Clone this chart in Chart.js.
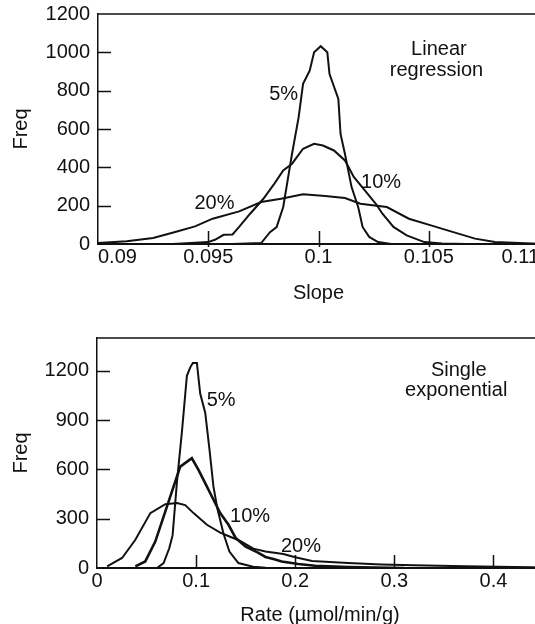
<!DOCTYPE html>
<html>
<head>
<meta charset="utf-8">
<script src="https://cdn.jsdelivr.net/npm/chart.js@4.4.1/dist/chart.umd.min.js"></script>
<style>
  html, body { margin: 0; padding: 0; background: #fff; overflow: hidden; }
  .panel { position: absolute; left: 0; width: 545px; }
  #topPanel { top: 0; height: 310px; }
  #bottomPanel { top: 310px; height: 330px; }
</style>
</head>
<body>
<div class="panel" id="topPanel"><canvas id="slopeChart"></canvas></div>
<div class="panel" id="bottomPanel"><canvas id="rateChart"></canvas></div>
<script>
// --- Linear regression: slope distributions for 5%, 10%, 20% noise ---
const SLOPE_X_TICKS = [0.09, 0.095, 0.1, 0.105, 0.11];
const SLOPE_Y_TICKS = [0, 200, 400, 600, 800, 1000, 1200];

const SLOPE_5_X = [0.0961, 0.0974, 0.0978, 0.0981, 0.0984, 0.0986, 0.0988, 0.0991, 0.0993, 0.0996, 0.0998, 0.1001,
                   0.1004, 0.1005, 0.1009, 0.1010, 0.1012, 0.1015, 0.1018, 0.1020, 0.1023, 0.1027, 0.1033];
const SLOPE_5_Y = [0, 5, 62, 88, 193, 332, 471, 662, 836, 904, 1000, 1032,
                   1000, 887, 757, 574, 470, 297, 193, 89, 37, 10, 0];

const SLOPE_10_X = [0.0934, 0.0950, 0.0953, 0.0957, 0.0961, 0.0964, 0.0969, 0.0975, 0.0980, 0.0984, 0.0988, 0.0993, 0.0998,
                    0.1002, 0.1007, 0.1012, 0.1016, 0.1021, 0.1026, 0.1029, 0.1034, 0.1040, 0.1048, 0.1056, 0.1067];
const SLOPE_10_Y = [0, 10, 22, 48, 50, 89, 158, 236, 315, 384, 419, 497, 523,
                    514, 488, 436, 350, 280, 210, 158, 89, 45, 10, 2, 0];

const SLOPE_20_X = [0.0900, 0.0913, 0.0925, 0.0935, 0.0944, 0.0952, 0.0964, 0.0974, 0.0983, 0.0993, 0.1003,
                    0.1012, 0.1019, 0.1031, 0.1041, 0.1051, 0.1060, 0.1071, 0.1080, 0.1091, 0.1097, 0.1100];
const SLOPE_20_Y = [5, 14, 31, 63, 92, 132, 170, 219, 236, 259, 250,
                    240, 210, 193, 132, 97, 66, 28, 10, 5, 2, 1];

// --- Single exponential: rate distributions ---
const RATE_X_TICKS = [0, 0.1, 0.2, 0.3, 0.4];
const RATE_Y_TICKS = [0, 300, 600, 900, 1200];

const RATE_5_X = [0.057, 0.0605, 0.0672, 0.0729, 0.0763, 0.0806, 0.0857, 0.0907, 0.094, 0.0967, 0.1008, 0.1041,
                  0.1092, 0.1135, 0.1175, 0.1215, 0.1276, 0.1336, 0.1427, 0.1575, 0.17, 0.18];
const RATE_5_Y = [0, 0, 30, 120, 200, 520, 830, 1170, 1220, 1248, 1248, 1062,
                  945, 720, 495, 360, 210, 100, 30, 8, 2, 0];

const RATE_10_X = [0.0387, 0.0487, 0.0588, 0.0672, 0.0739, 0.084, 0.0957, 0.1024, 0.1075, 0.1159, 0.1243, 0.1327,
                   0.14, 0.15, 0.162, 0.17, 0.178, 0.1864, 0.2031, 0.22, 0.2535, 0.28, 0.31];
const RATE_10_Y = [10, 40, 161, 313, 435, 617, 668, 597, 536, 435, 334, 263,
                   182, 130, 95, 67, 55, 40, 24, 14, 6, 3, 0];

const RATE_20_X = [0.0102, 0.0253, 0.0387, 0.0538, 0.0689, 0.0807, 0.089, 0.0974, 0.1109, 0.1243, 0.1343, 0.1444,
                   0.1578, 0.17, 0.188, 0.2, 0.217, 0.235, 0.2535, 0.287, 0.32, 0.371, 0.438, 0.45];
const RATE_20_Y = [10, 61, 172, 334, 388, 396, 383, 334, 263, 215, 190, 165,
                   118, 100, 85, 65, 42, 36, 30, 22, 16, 10, 5, 3];

const INK = "#111";
const FONT = { family: "'Liberation Sans', Arial, Helvetica, sans-serif", size: 20 };

Chart.defaults.font.family = FONT.family;
Chart.defaults.font.size = FONT.size;
Chart.defaults.color = INK;

function zip(xs, ys) {
    return xs.map((x, i) => ({ x, y: ys[i] }));
}

function curve(xs, ys, width) {
    return {
        data: zip(xs, ys),
        borderColor: INK,
        borderWidth: width || 2,
        pointRadius: 0,
        tension: 0,
        fill: false,
    };
}

// Frame top edge, inward tick marks and in-plot text notes.
const frameTicks = {
    id: "frameTicks",
    afterDraw(chart, args, opts) {
        const { ctx, chartArea: a, scales: { x, y } } = chart;
        ctx.save();
        ctx.strokeStyle = INK;
        ctx.lineWidth = 1.5;
        ctx.beginPath();
        ctx.moveTo(a.left, a.top);
        ctx.lineTo(a.right + 10, a.top);
        ctx.stroke();

        ctx.beginPath();
        y.ticks.forEach(t => {
            if (t.value <= y.min || t.value >= y.max) return;
            const py = Math.round(y.getPixelForValue(t.value)) + 0.5;
            ctx.moveTo(a.left, py);
            ctx.lineTo(a.left + opts.tick, py);
        });
        x.ticks.forEach(t => {
            if (t.value <= x.min || t.value >= x.max) return;
            const px = Math.round(x.getPixelForValue(t.value)) + 0.5;
            ctx.moveTo(px, a.bottom + opts.below);
            ctx.lineTo(px, a.bottom - opts.tick);
        });
        ctx.stroke();

        ctx.fillStyle = INK;
        ctx.font = FONT.size + "px " + FONT.family;
        ctx.textAlign = "center";
        ctx.textBaseline = "middle";
        opts.notes.forEach(n => {
            ctx.fillText(n.text, x.getPixelForValue(n.x), y.getPixelForValue(n.y));
        });
        ctx.restore();
    },
};

function makeChart(canvasId, cfg) {
    const ctx = document.getElementById(canvasId).getContext("2d");
    return new Chart(ctx, {
        type: "line",
        data: { datasets: cfg.datasets },
        plugins: [frameTicks],
        options: {
            responsive: true,
            maintainAspectRatio: false,
            animation: false,
            layout: { autoPadding: false, padding: cfg.padding },
            plugins: {
                legend: { display: false },
                tooltip: { enabled: false },
                frameTicks: { tick: 13, below: cfg.below, notes: cfg.notes },
            },
            scales: {
                x: {
                    type: "linear",
                    min: cfg.xMin,
                    max: cfg.xMax,
                    afterBuildTicks: s => { s.ticks = cfg.xTicks.map(v => ({ value: v })); },
                    afterFit: s => {
                        s.height = cfg.xHeight;
                        // let the end labels run past the plot edge
                        s.paddingLeft = 0;
                        s.paddingRight = 0;
                    },
                    ticks: {
                        padding: cfg.xPad,
                        align: cfg.xAlign,
                        maxRotation: 0,
                        autoSkip: false,
                        callback: v => String(v),
                    },
                    grid: { display: false, drawTicks: false },
                    border: { display: true, color: INK, width: 2 },
                    title: { display: true, text: cfg.xTitle, padding: { top: 0, bottom: cfg.xTitlePad } },
                },
                y: {
                    type: "linear",
                    min: cfg.yMin,
                    max: cfg.yMax,
                    afterBuildTicks: s => { s.ticks = cfg.yTicks.map(v => ({ value: v })); },
                    afterFit: s => {
                        s.width = cfg.yWidth;
                        s.paddingTop = 0;
                        s.paddingBottom = 0;
                    },
                    ticks: { padding: 8, callback: v => String(v) },
                    grid: { display: false, drawTicks: false },
                    border: { display: true, color: INK, width: 1.5 },
                    title: { display: true, text: "Freq", padding: { top: 9, bottom: 0 } },
                },
            },
        },
    });
}

makeChart("slopeChart", {
    datasets: [
        curve(SLOPE_20_X, SLOPE_20_Y),
        curve(SLOPE_10_X, SLOPE_10_Y),
        curve(SLOPE_5_X, SLOPE_5_Y),
    ],
    padding: { top: 14, right: 6, left: 0, bottom: 0 },
    xMin: 0.09, xMax: 0.11, xTicks: SLOPE_X_TICKS, xAlign: "inner",
    yMin: 0, yMax: 1200, yTicks: SLOPE_Y_TICKS,
    xHeight: 66, yWidth: 98, xPad: 1, xTitlePad: 5, below: 3,
    xTitle: "Slope",
    notes: [
        { text: "5%", x: 0.09842, y: 779 },
        { text: "10%", x: 0.10284, y: 320 },
        { text: "20%", x: 0.09528, y: 210 },
        { text: "Linear", x: 0.10546, y: 1016 },
        { text: "regression", x: 0.10535, y: 906 },
    ],
});

makeChart("rateChart", {
    datasets: [
        curve(RATE_20_X, RATE_20_Y),
        curve(RATE_10_X, RATE_10_Y, 2.6),
        curve(RATE_5_X, RATE_5_Y),
    ],
    padding: { top: 28, right: 2, left: 0, bottom: 0 },
    xMin: 0, xMax: 0.45, xTicks: RATE_X_TICKS, xAlign: "center",
    yMin: 0, yMax: 1400, yTicks: RATE_Y_TICKS,
    xHeight: 72, yWidth: 97, xPad: 1, xTitlePad: 13, below: 0,
    xTitle: "Rate (µmol/min/g)",
    notes: [
        { text: "5%", x: 0.1253, y: 1022 },
        { text: "10%", x: 0.1545, y: 314 },
        { text: "20%", x: 0.2058, y: 132 },
        { text: "Single", x: 0.365, y: 1205 },
        { text: "exponential", x: 0.3624, y: 1080 },
    ],
});
</script>
</body>
</html>
